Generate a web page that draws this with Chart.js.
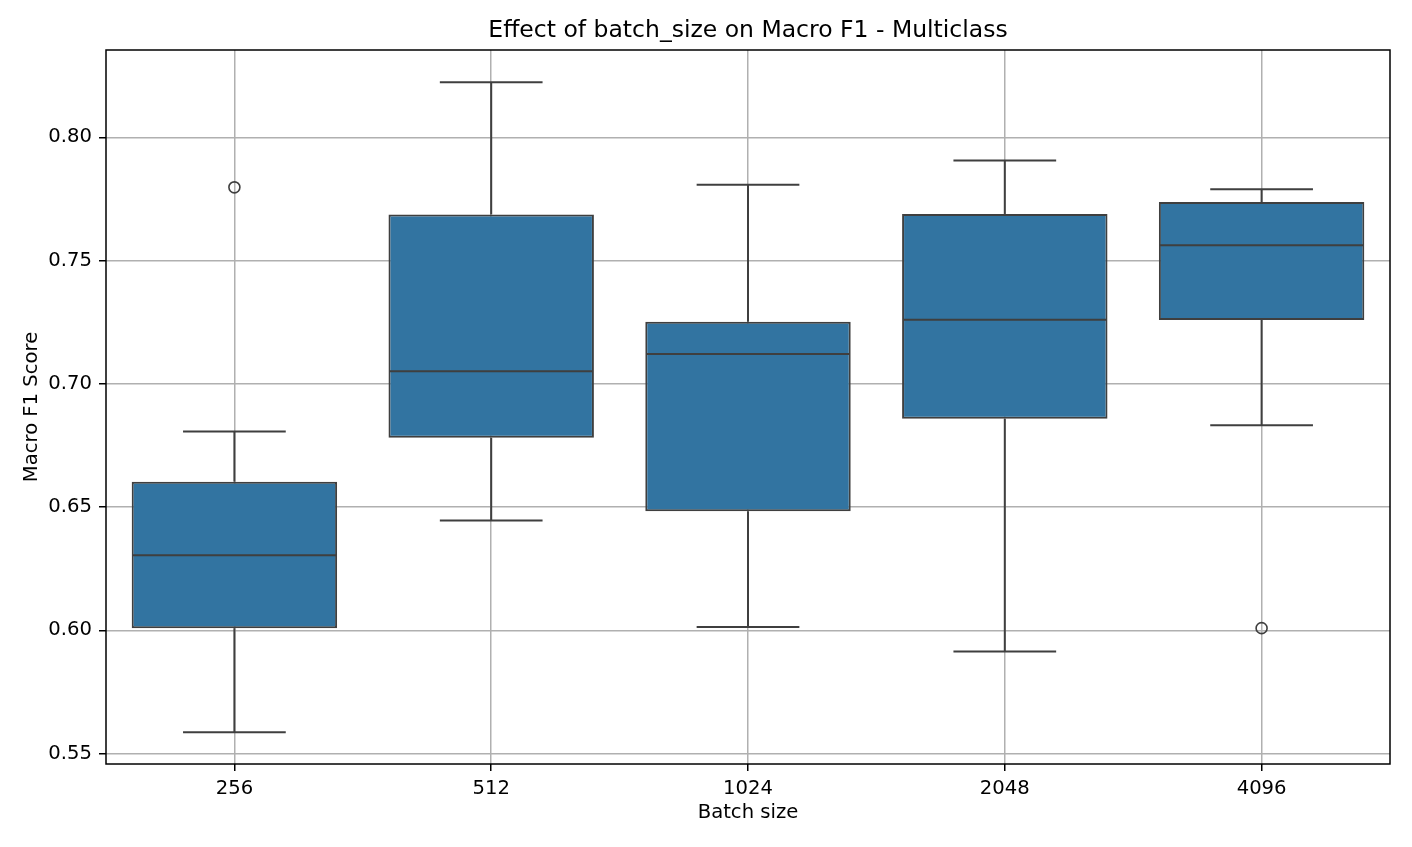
<!DOCTYPE html>
<html>
<head>
<meta charset="utf-8">
<script src="https://cdn.jsdelivr.net/npm/chart.js@4.4.1/dist/chart.umd.min.js"></script>
<style>
  body { margin: 0; background: #fff; }
  canvas { display: block; }
</style>
</head>
<body>
<canvas id="chart" width="1412" height="847"></canvas>
<script>
const batchSizes = ['256', '512', '1024', '2048', '4096']
const whiskerLow = [0.5587, 0.6446, 0.6014, 0.5914, 0.6832]
const q1 = [0.6009, 0.6781, 0.6483, 0.6858, 0.7259]
const median = [0.6305, 0.7051, 0.7121, 0.7260, 0.7562]
const q3 = [0.6603, 0.7687, 0.7252, 0.7689, 0.7737]
const whiskerHigh = [0.6807, 0.8223, 0.7807, 0.7906, 0.7789]
const outliers = [0.7797, null, null, null, 0.6009]
const yTicks = [0.55, 0.60, 0.65, 0.70, 0.75, 0.80]
const chartTitle = 'Effect of batch_size on Macro F1 - Multiclass'

const lineColor = '#3f3f3f'

// whiskers, caps and medians, placed with the chart's own scales
const boxExtras = {
  id: 'boxExtras',
  afterDatasetsDraw (chart) {
    const { ctx, scales: { x, y } } = chart
    const bars = chart.getDatasetMeta(0).data
    ctx.save()
    ctx.strokeStyle = lineColor
    ctx.lineWidth = 2
    const line = (x1, y1, x2, y2) => {
      ctx.beginPath()
      ctx.moveTo(x1, y1)
      ctx.lineTo(x2, y2)
      ctx.stroke()
    }
    batchSizes.forEach((label, i) => {
      const cx = x.getPixelForValue(i)
      const half = bars[i].width / 2
      const cap = half / 2
      line(cx, y.getPixelForValue(q3[i]), cx, y.getPixelForValue(whiskerHigh[i]))
      line(cx, y.getPixelForValue(q1[i]), cx, y.getPixelForValue(whiskerLow[i]))
      line(cx - cap, y.getPixelForValue(whiskerHigh[i]), cx + cap, y.getPixelForValue(whiskerHigh[i]))
      line(cx - cap, y.getPixelForValue(whiskerLow[i]), cx + cap, y.getPixelForValue(whiskerLow[i]))
      line(cx - half + 1, y.getPixelForValue(median[i]), cx + half - 1, y.getPixelForValue(median[i]))
    })
    ctx.restore()
  },
  afterDraw (chart) {
    const { ctx, chartArea: a } = chart
    ctx.save()
    ctx.strokeStyle = '#000'
    ctx.lineWidth = 1.5
    ctx.strokeRect(a.left, a.top, a.right - a.left, a.bottom - a.top)
    // title centred over the plot area, as matplotlib does
    ctx.fillStyle = '#000'
    ctx.font = "23.5px 'DejaVu Sans', sans-serif"
    ctx.textAlign = 'center'
    ctx.textBaseline = 'middle'
    ctx.fillText(chartTitle, (a.left + a.right) / 2, 31)
    ctx.restore()
  }
}

Chart.defaults.font.family = "'DejaVu Sans', sans-serif"
Chart.defaults.color = '#000'

new Chart(document.getElementById('chart'), {
  type: 'bar',
  data: {
    labels: batchSizes,
    datasets: [
      {
        data: q1.map((v, i) => [v, q3[i]]),
        backgroundColor: '#3274a1',
        borderColor: lineColor,
        borderWidth: 2,
        borderSkipped: false,
        categoryPercentage: 0.8,
        barPercentage: 1
      },
      {
        type: 'line',
        data: outliers,
        showLine: false,
        pointRadius: 5.5,
        pointBorderWidth: 1.6,
        pointBorderColor: lineColor,
        pointBackgroundColor: 'rgba(0,0,0,0)'
      }
    ]
  },
  options: {
    responsive: false,
    animation: false,
    layout: { padding: { left: 0, right: 22, top: 50, bottom: 0 } },
    plugins: {
      legend: { display: false },
      tooltip: { enabled: false },
      title: { display: false }
    },
    scales: {
      x: {
        offset: true,
        grid: { offset: false, color: '#b0b0b0', lineWidth: 1.5, tickColor: '#000', tickLength: 7 },
        border: { display: false },
        ticks: { font: { size: 19.6 }, padding: 6, maxRotation: 0, autoSkip: false },
        title: { display: true, text: 'Batch size', font: { size: 19.6 }, padding: { top: 0, bottom: 22 } },
        afterFit: scale => { scale.height = 83 }
      },
      y: {
        min: 0.5458,
        max: 0.8354,
        grid: { color: '#b0b0b0', lineWidth: 1.5, tickColor: '#000', tickLength: 7 },
        border: { display: false },
        ticks: { font: { size: 19.6 }, padding: 7, callback: v => v.toFixed(2) },
        afterBuildTicks: scale => { scale.ticks = yTicks.map(value => ({ value })) },
        title: { display: true, text: 'Macro F1 Score', font: { size: 19.6 }, padding: { top: 20, bottom: 0 } },
        afterFit: scale => { scale.width = 106 }
      }
    }
  },
  plugins: [boxExtras]
})
</script>
</body>
</html>
